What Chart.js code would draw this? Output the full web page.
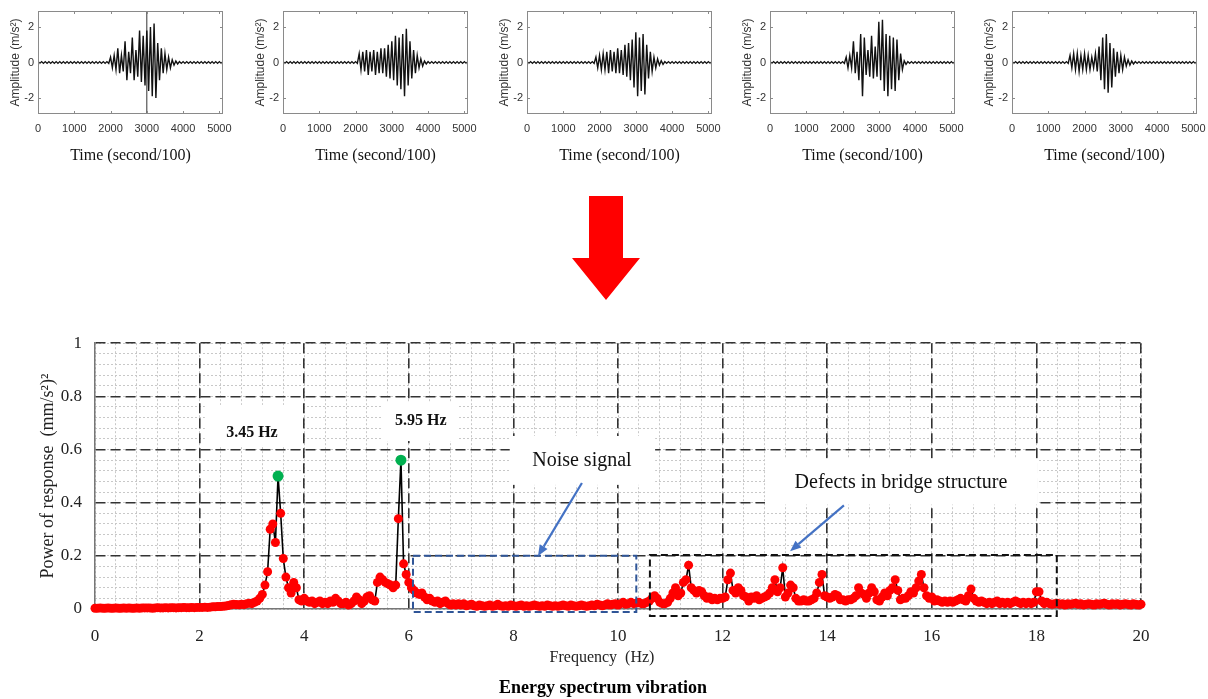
<!DOCTYPE html>
<html>
<head>
<meta charset="utf-8">
<script src="https://cdn.jsdelivr.net/npm/chart.js@4"></script>
<style>
  html, body { margin: 0; padding: 0; background: #fff; width: 1208px; height: 699px; overflow: hidden; }
  body { position: relative; }
  .wave { position: absolute; top: 0; width: 240px; height: 170px; }
  #mainWrap { position: absolute; left: 0; top: 320px; width: 1208px; height: 379px; }
  #bigArrow { position: absolute; left: 0; top: 0; }
</style>
</head>
<body>
<svg id="bigArrow" width="1208" height="320">
  <polygon points="589,196 623,196 623,258 640,258 606,300 572,258 589,258" fill="#ff0000"/>
</svg>
<div class="wave" style="left:0px"><canvas id="w1"></canvas></div>
<div class="wave" style="left:245px"><canvas id="w2"></canvas></div>
<div class="wave" style="left:489px"><canvas id="w3"></canvas></div>
<div class="wave" style="left:732px"><canvas id="w4"></canvas></div>
<div class="wave" style="left:974px"><canvas id="w5"></canvas></div>
<div id="mainWrap"><canvas id="spectrum"></canvas></div>
<script>
const SERIF = '"Liberation Serif", "Times New Roman", serif';
const SANS = '"Liberation Sans", Arial, sans-serif';

// ---- acceleration records (top row) ----
const waveTimes = [0,100,200,300,400,500,600,700,800,900,1000,1100,1200,1300,1400,1500,1600,1700,1800,1900,
  2000,2100,2200,2300,2400,2500,2600,2700,2800,2900,3000,3100,3200,3300,3400,3500,3600,3700,3800,3900,
  4000,4100,4200,4300,4400,4500,4600,4700,4800,4900,5000,5100];
const waveTickX = [0, 1000, 2000, 3000, 4000, 5000];
const waveTickY = [-2, 0, 2];

const wave1Hi = [0.05,0.05,0.05,0.05,0.05,0.05,0.05,0.05,0.05,0.05,0.05,0.05,0.05,0.05,0.05,0.05,0.05,0.05,0.05,0.05,
  0.3,0.4,0.8,0.4,1.2,0.6,1.4,0.7,1.8,1.5,1.8,2.0,2.2,1.1,0.8,0.5,0.3,0.15,0.08,
  0.05,0.05,0.05,0.05,0.05,0.05,0.05,0.05,0.05,0.05,0.05,0.05,0.05];
const wave1Lo = [-0.05,-0.05,-0.05,-0.05,-0.05,-0.05,-0.05,-0.05,-0.05,-0.05,-0.05,-0.05,-0.05,-0.05,-0.05,-0.05,-0.05,-0.05,-0.05,-0.05,
  -0.3,-0.4,-0.6,-0.5,-1.0,-0.6,-1.0,-0.8,-1.1,-1.3,-1.6,-1.9,-2.0,-1.0,-0.6,-0.4,-0.3,-0.15,-0.08,
  -0.05,-0.05,-0.05,-0.05,-0.05,-0.05,-0.05,-0.05,-0.05,-0.05,-0.05,-0.05,-0.05];
const wave1Marker = 3000;

const wave2Hi = [0.05,0.05,0.05,0.05,0.05,0.05,0.05,0.05,0.05,0.05,0.05,0.05,0.05,0.05,0.05,0.05,0.05,0.05,0.05,0.05,0.05,
  0.5,0.6,0.7,0.6,0.7,0.6,0.8,0.8,1.0,1.2,1.5,1.4,1.6,1.9,1.2,0.7,0.4,0.2,0.08,
  0.05,0.05,0.05,0.05,0.05,0.05,0.05,0.05,0.05,0.05,0.05,0.05];
const wave2Lo = [-0.05,-0.05,-0.05,-0.05,-0.05,-0.05,-0.05,-0.05,-0.05,-0.05,-0.05,-0.05,-0.05,-0.05,-0.05,-0.05,-0.05,-0.05,-0.05,-0.05,-0.05,
  -0.4,-0.5,-0.7,-0.5,-0.7,-0.6,-0.6,-0.8,-0.9,-1.0,-1.3,-1.5,-1.9,-1.3,-0.9,-0.6,-0.3,-0.2,-0.08,
  -0.05,-0.05,-0.05,-0.05,-0.05,-0.05,-0.05,-0.05,-0.05,-0.05,-0.05,-0.05];

const wave3Hi = [0.05,0.05,0.05,0.05,0.05,0.05,0.05,0.05,0.05,0.05,0.05,0.05,0.05,0.05,0.05,0.05,0.05,0.05,0.05,
  0.3,0.4,0.5,0.6,0.7,0.6,0.8,0.7,1.0,1.1,1.3,1.7,1.4,1.6,1.0,0.6,0.3,0.2,0.1,
  0.05,0.05,0.05,0.05,0.05,0.05,0.05,0.05,0.05,0.05,0.05,0.05,0.05,0.05];
const wave3Lo = [-0.05,-0.05,-0.05,-0.05,-0.05,-0.05,-0.05,-0.05,-0.05,-0.05,-0.05,-0.05,-0.05,-0.05,-0.05,-0.05,-0.05,-0.05,-0.05,
  -0.3,-0.4,-0.4,-0.6,-0.5,-0.6,-0.6,-0.7,-0.8,-1.0,-1.4,-1.9,-1.6,-1.8,-0.9,-0.5,-0.3,-0.15,-0.1,
  -0.05,-0.05,-0.05,-0.05,-0.05,-0.05,-0.05,-0.05,-0.05,-0.05,-0.05,-0.05,-0.05,-0.05];

const wave4Hi = [0.05,0.05,0.05,0.05,0.05,0.05,0.05,0.05,0.05,0.05,0.05,0.05,0.05,0.05,0.05,0.05,0.05,0.05,0.05,0.05,0.05,
  0.3,0.4,1.2,0.6,1.6,1.4,0.7,1.5,0.9,2.3,2.4,1.6,1.5,1.4,1.3,0.5,0.1,
  0.05,0.05,0.05,0.05,0.05,0.05,0.05,0.05,0.05,0.05,0.05,0.05,0.05,0.05];
const wave4Lo = [-0.05,-0.05,-0.05,-0.05,-0.05,-0.05,-0.05,-0.05,-0.05,-0.05,-0.05,-0.05,-0.05,-0.05,-0.05,-0.05,-0.05,-0.05,-0.05,-0.05,-0.05,
  -0.3,-0.3,-0.6,-1.0,-1.9,-0.7,-0.8,-0.9,-0.8,-1.0,-1.6,-1.9,-1.5,-1.6,-1.0,-0.4,-0.1,
  -0.05,-0.05,-0.05,-0.05,-0.05,-0.05,-0.05,-0.05,-0.05,-0.05,-0.05,-0.05,-0.05,-0.05];

const wave5Hi = [0.05,0.05,0.05,0.05,0.05,0.05,0.05,0.05,0.05,0.05,0.05,0.05,0.05,0.05,0.05,0.05,
  0.4,0.5,0.5,0.4,0.5,0.4,0.3,0.5,0.9,1.4,1.6,1.1,0.8,0.6,0.4,0.3,0.15,0.08,
  0.05,0.05,0.05,0.05,0.05,0.05,0.05,0.05,0.05,0.05,0.05,0.05,0.05,0.05,0.05,0.05,0.05,0.05];
const wave5Lo = [-0.05,-0.05,-0.05,-0.05,-0.05,-0.05,-0.05,-0.05,-0.05,-0.05,-0.05,-0.05,-0.05,-0.05,-0.05,-0.05,
  -0.3,-0.4,-0.5,-0.4,-0.4,-0.4,-0.3,-0.5,-1.0,-1.5,-1.7,-1.4,-0.8,-0.6,-0.4,-0.2,-0.15,-0.08,
  -0.05,-0.05,-0.05,-0.05,-0.05,-0.05,-0.05,-0.05,-0.05,-0.05,-0.05,-0.05,-0.05,-0.05,-0.05,-0.05,-0.05,-0.05];

// ---- energy spectrum (0 to 20 Hz, 0.05 Hz bins) ----
const freqTicks = [0, 2, 4, 6, 8, 10, 12, 14, 16, 18, 20];
const powerTicks = [0, 0.2, 0.4, 0.6, 0.8, 1];
const spectrumPower = [
  0.003,0.003,0.004,0.003,0.003,0.004,0.003,0.003,0.004,0.003,0.003,0.004,0.003,0.004,0.003,0.003,0.004,0.003,0.004,0.004,
  0.004,0.004,0.003,0.004,0.005,0.004,0.004,0.005,0.004,0.005,0.005,0.004,0.005,0.005,0.006,0.005,0.005,0.006,0.005,0.006,
  0.006,0.006,0.007,0.006,0.007,0.008,0.008,0.009,0.009,0.010,0.011,0.013,0.016,0.018,0.017,0.016,0.018,0.017,0.020,0.022,
  0.020,0.025,0.030,0.040,0.055,0.090,0.140,0.300,0.320,0.250,0.500,0.360,0.190,0.120,0.080,0.060,0.100,0.080,0.035,0.030,
  0.040,0.030,0.025,0.030,0.020,0.025,0.030,0.020,0.025,0.020,0.030,0.025,0.040,0.030,0.020,0.020,0.025,0.015,0.020,0.030,
  0.045,0.035,0.020,0.030,0.045,0.050,0.035,0.030,0.100,0.120,0.110,0.100,0.095,0.090,0.080,0.090,0.340,0.560,0.170,0.130,
  0.100,0.080,0.070,0.060,0.055,0.060,0.045,0.035,0.040,0.030,0.025,0.030,0.020,0.025,0.030,0.020,0.015,0.020,0.015,0.020,
  0.015,0.020,0.012,0.015,0.018,0.012,0.010,0.015,0.012,0.010,0.012,0.015,0.010,0.012,0.018,0.012,0.010,0.012,0.010,0.015,
  0.012,0.010,0.012,0.015,0.010,0.012,0.010,0.012,0.015,0.012,0.010,0.012,0.010,0.015,0.012,0.010,0.012,0.010,0.012,0.015,
  0.012,0.010,0.015,0.012,0.010,0.012,0.015,0.012,0.010,0.012,0.015,0.012,0.018,0.015,0.012,0.015,0.020,0.015,0.018,0.020,
  0.015,0.020,0.025,0.018,0.020,0.025,0.020,0.022,0.025,0.020,0.020,0.025,0.030,0.040,0.050,0.040,0.025,0.020,0.020,0.025,
  0.040,0.060,0.080,0.050,0.060,0.100,0.110,0.165,0.080,0.070,0.060,0.070,0.065,0.050,0.040,0.045,0.035,0.040,0.035,0.040,
  0.040,0.045,0.110,0.135,0.070,0.060,0.080,0.070,0.050,0.045,0.030,0.045,0.040,0.050,0.035,0.040,0.045,0.050,0.060,0.080,
  0.110,0.065,0.080,0.155,0.045,0.060,0.090,0.080,0.040,0.030,0.030,0.035,0.030,0.030,0.035,0.040,0.060,0.100,0.130,0.050,
  0.045,0.040,0.045,0.055,0.050,0.035,0.035,0.030,0.035,0.035,0.040,0.050,0.080,0.060,0.055,0.040,0.060,0.080,0.065,0.035,
  0.030,0.045,0.060,0.050,0.070,0.080,0.110,0.070,0.035,0.040,0.040,0.050,0.065,0.060,0.080,0.105,0.130,0.080,0.050,0.040,
  0.045,0.030,0.035,0.030,0.025,0.030,0.025,0.030,0.025,0.030,0.035,0.040,0.035,0.030,0.050,0.075,0.040,0.030,0.025,0.030,
  0.025,0.020,0.025,0.020,0.025,0.030,0.020,0.025,0.020,0.025,0.020,0.025,0.030,0.025,0.020,0.025,0.020,0.025,0.020,0.025,
  0.065,0.065,0.030,0.020,0.025,0.020,0.018,0.020,0.022,0.018,0.020,0.015,0.020,0.018,0.020,0.022,0.018,0.020,0.015,0.018,
  0.020,0.018,0.015,0.020,0.018,0.020,0.022,0.018,0.015,0.020,0.018,0.020,0.015,0.018,0.020,0.018,0.015,0.020,0.018,0.015,
  0.018
];
const freqHz = spectrumPower.map((_, i) => +(i * 0.05).toFixed(2));
const peakFreqs = [3.5, 5.85];
const peakPowers = [0.5, 0.56];
const peakLabels = ['3.45 Hz', '5.95 Hz'];

Chart.defaults.animation = false;
Chart.defaults.plugins.legend.display = false;
Chart.defaults.plugins.tooltip.enabled = false;

// small MATLAB style frame with inward ticks
const waveFrame = {
  id: 'waveFrame',
  afterDraw(chart) {
    const { ctx, chartArea: a, scales } = chart;
    ctx.save();
    ctx.strokeStyle = '#8a8a8a';
    ctx.lineWidth = 1;
    ctx.strokeRect(a.left + 0.5, a.top + 0.5, a.right - a.left - 1, a.bottom - a.top - 1);
    ctx.beginPath();
    waveTickX.forEach(v => {
      const px = Math.round(scales.x.getPixelForValue(v)) + 0.5;
      ctx.moveTo(px, a.bottom); ctx.lineTo(px, a.bottom - 3);
      ctx.moveTo(px, a.top); ctx.lineTo(px, a.top + 3);
    });
    waveTickY.forEach(v => {
      const py = Math.round(scales.y.getPixelForValue(v)) + 0.5;
      ctx.moveTo(a.left, py); ctx.lineTo(a.left + 3, py);
      ctx.moveTo(a.right, py); ctx.lineTo(a.right - 3, py);
    });
    ctx.stroke();
    ctx.restore();
  }
};

function waveChart(id, hi, lo, marker) {
  const pts = [];
  waveTimes.forEach((t, i) => {
    pts.push({ x: t, y: hi[i] });
    pts.push({ x: t + 50, y: lo[i] });
  });
  const datasets = [{
    data: pts, borderColor: '#111', borderWidth: 1.4, pointRadius: 0, tension: 0
  }];
  if (marker !== undefined) {
    datasets.push({
      data: [{ x: marker, y: -2.9 }, { x: marker, y: 2.9 }],
      borderColor: '#333', borderWidth: 1, pointRadius: 0
    });
  }
  new Chart(document.getElementById(id), {
    type: 'line',
    data: { datasets },
    options: {
      responsive: true,
      maintainAspectRatio: false,
      layout: { padding: { top: 11, right: 17, left: 0, bottom: 0 } },
      scales: {
        x: {
          type: 'linear', min: 0, max: 5100,
          afterBuildTicks: s => { s.ticks = waveTickX.map(v => ({ value: v })); },
          afterFit: s => { s.height = 56; },
          grid: { display: false, drawTicks: false },
          border: { display: false },
          ticks: { padding: 8, color: '#333', font: { family: SANS, size: 11 }, maxRotation: 0, autoSkip: false, callback: v => String(v) },
          title: { display: true, text: 'Time (second/100)', color: '#111', font: { family: SERIF, size: 16 }, padding: { top: 0, bottom: 5 } }
        },
        y: {
          type: 'linear', min: -2.9, max: 2.9,
          afterBuildTicks: s => { s.ticks = waveTickY.map(v => ({ value: v })); },
          afterFit: s => { s.width = 38; },
          grid: { display: false, drawTicks: false },
          border: { display: false },
          ticks: { padding: 4, color: '#333', font: { family: SANS, size: 11 }, callback: v => String(v) },
          title: { display: true, text: 'Amplitude (m/s²)', color: '#333', font: { family: SANS, size: 12 }, padding: { top: 8, bottom: 0 } }
        }
      }
    },
    plugins: [waveFrame]
  });
}

waveChart('w1', wave1Hi, wave1Lo, wave1Marker);
waveChart('w2', wave2Hi, wave2Lo);
waveChart('w3', wave3Hi, wave3Lo);
waveChart('w4', wave4Hi, wave4Lo);
waveChart('w5', wave5Hi, wave5Lo);

// ---- annotations on the spectrum (data units) ----
const maskBoxes = [
  { x0: 2.1, x1: 3.96, y0: 0.614, y1: 0.768 },
  { x0: 5.5, x1: 6.94, y0: 0.632, y1: 0.776 },
  { x0: 7.93, x1: 10.71, y0: 0.467, y1: 0.651 },
  { x0: 12.81, x1: 18.03, y0: 0.393, y1: 0.566 }
];
const regionBoxes = [
  { x0: 6.08, x1: 10.35, y0: -0.011, y1: 0.2, color: '#2f5597' },
  { x0: 10.61, x1: 18.39, y0: -0.026, y1: 0.203, color: '#111' }
];
const peakTextPos = [{ x: 3.0, y: 0.662 }, { x: 6.23, y: 0.706 }];
const callouts = [
  { text: 'Noise signal', x: 9.31, y: 0.559, from: [9.31, 0.474], to: [8.47, 0.199] },
  { text: 'Defects in bridge structure', x: 15.41, y: 0.474, from: [14.32, 0.39], to: [13.29, 0.217] }
];

function arrow(ctx, x1, y1, x2, y2, color) {
  const ang = Math.atan2(y2 - y1, x2 - x1);
  const hl = 11, hw = 4.5;
  ctx.strokeStyle = color; ctx.fillStyle = color; ctx.lineWidth = 2.2;
  ctx.setLineDash([]);
  ctx.beginPath();
  ctx.moveTo(x1, y1);
  ctx.lineTo(x2 - hl * Math.cos(ang), y2 - hl * Math.sin(ang));
  ctx.stroke();
  ctx.beginPath();
  ctx.moveTo(x2, y2);
  ctx.lineTo(x2 - hl * Math.cos(ang) + hw * Math.sin(ang), y2 - hl * Math.sin(ang) - hw * Math.cos(ang));
  ctx.lineTo(x2 - hl * Math.cos(ang) - hw * Math.sin(ang), y2 - hl * Math.sin(ang) + hw * Math.cos(ang));
  ctx.closePath();
  ctx.fill();
}

const spectrumDecor = {
  id: 'spectrumDecor',
  beforeDatasetsDraw(chart) {
    const { ctx, scales: { x, y } } = chart;
    ctx.save();
    ctx.fillStyle = '#fff';
    maskBoxes.forEach(b => {
      const l = x.getPixelForValue(b.x0), r = x.getPixelForValue(b.x1);
      const t = y.getPixelForValue(b.y1), btm = y.getPixelForValue(b.y0);
      ctx.fillRect(l, t, r - l, btm - t);
    });
    ctx.restore();
  },
  afterDatasetsDraw(chart) {
    const { ctx, scales: { x, y } } = chart;
    ctx.save();
    regionBoxes.forEach(b => {
      const l = x.getPixelForValue(b.x0), r = x.getPixelForValue(b.x1);
      const t = y.getPixelForValue(b.y1), btm = y.getPixelForValue(b.y0);
      ctx.strokeStyle = b.color; ctx.lineWidth = 2; ctx.setLineDash([7, 4]);
      ctx.strokeRect(l, t, r - l, btm - t);
    });
    ctx.setLineDash([]);
    ctx.fillStyle = '#111';
    ctx.textAlign = 'center'; ctx.textBaseline = 'middle';
    ctx.font = 'bold 16px ' + SERIF;
    peakLabels.forEach((s, i) => {
      ctx.fillText(s, x.getPixelForValue(peakTextPos[i].x), y.getPixelForValue(peakTextPos[i].y));
    });
    ctx.font = '20px ' + SERIF;
    callouts.forEach(c => {
      ctx.fillStyle = '#111';
      ctx.fillText(c.text, x.getPixelForValue(c.x), y.getPixelForValue(c.y));
      arrow(ctx, x.getPixelForValue(c.from[0]), y.getPixelForValue(c.from[1]),
        x.getPixelForValue(c.to[0]), y.getPixelForValue(c.to[1]), '#4472c4');
    });
    // axis caption and figure caption
    ctx.fillStyle = '#222';
    ctx.font = '16px ' + SERIF;
    ctx.fillText('Frequency  (Hz)', 602, 338);
    ctx.fillStyle = '#000';
    ctx.font = 'bold 18px ' + SERIF;
    ctx.fillText('Energy spectrum vibration', 603, 368);
    ctx.restore();
  }
};

new Chart(document.getElementById('spectrum'), {
  type: 'line',
  data: {
    datasets: [
      {
        data: peakFreqs.map((f, i) => ({ x: f, y: peakPowers[i] })),
        showLine: false, pointRadius: 5.5, pointBackgroundColor: '#00b050', pointBorderWidth: 0,
        order: 0, clip: false
      },
      {
        data: freqHz.map((f, i) => ({ x: f, y: spectrumPower[i] })),
        borderColor: '#000', borderWidth: 1.6, tension: 0,
        pointRadius: 4.5, pointBackgroundColor: '#ff0000', pointBorderWidth: 0,
        order: 1, clip: false
      }
    ]
  },
  options: {
    responsive: true,
    maintainAspectRatio: false,
    layout: { padding: { top: 17, right: 67, left: 0, bottom: 0 } },
    scales: {
      xMinor: {
        type: 'linear', position: 'bottom', min: 0, max: 20, z: -1,
        afterFit: s => { s.height = 0; },
        ticks: { display: false, stepSize: 0.4 },
        grid: { color: '#c8c8c8', lineWidth: 1, drawTicks: false },
        border: { display: false, dash: [2, 2] }
      },
      yMinor: {
        type: 'linear', position: 'left', min: 0, max: 1, z: -1,
        afterFit: s => { s.width = 0; },
        ticks: { display: false, stepSize: 0.04 },
        grid: { color: '#c8c8c8', lineWidth: 1, drawTicks: false },
        border: { display: false, dash: [2, 2] }
      },
      x: {
        type: 'linear', position: 'bottom', min: 0, max: 20,
        afterBuildTicks: s => { s.ticks = freqTicks.map(v => ({ value: v })); },
        afterFit: s => { s.height = 90; },
        ticks: { padding: 17, color: '#222', font: { family: SERIF, size: 17 }, maxRotation: 0, autoSkip: false, callback: v => String(v) },
        grid: { color: c => (c.tick && c.tick.value === 0 ? 'rgba(0,0,0,0)' : '#333'), lineWidth: 1.6, drawTicks: false },
        border: { display: true, color: '#777', width: 1.5, dash: [10, 5] }
      },
      y: {
        type: 'linear', position: 'left', min: 0, max: 1,
        afterBuildTicks: s => { s.ticks = powerTicks.map(v => ({ value: v })); },
        afterFit: s => { s.width = 95; },
        ticks: { padding: 13, color: '#222', font: { family: SERIF, size: 17 }, autoSkip: false, callback: v => String(v) },
        grid: { color: c => (c.tick && c.tick.value === 0 ? 'rgba(0,0,0,0)' : '#333'), lineWidth: 1.6, drawTicks: false },
        border: { display: true, color: '#777', width: 1.5, dash: [10, 5] },
        title: { display: true, text: 'Power of response  (mm/s²)²', color: '#222', font: { family: SERIF, size: 18 }, padding: { top: 37, bottom: 0 } }
      }
    }
  },
  plugins: [spectrumDecor]
});
</script>
</body>
</html>
